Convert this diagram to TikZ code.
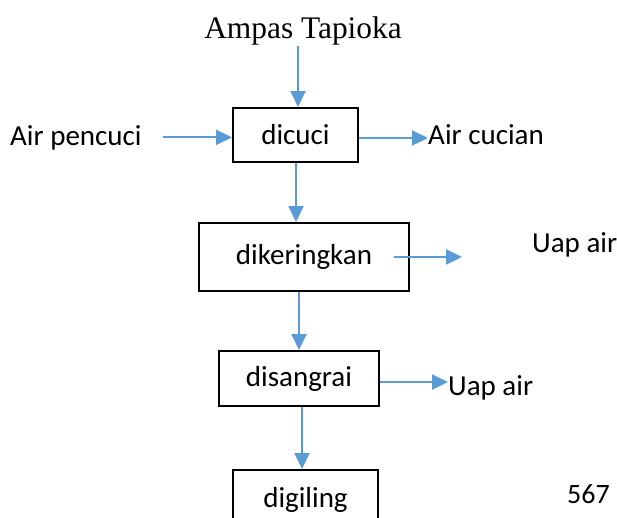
\documentclass[tikz,border=0pt]{standalone}
\usepackage{fontspec}
\setmainfont{Carlito}
\newfontfamily\serifface{Liberation Serif}
\usetikzlibrary{arrows.meta}
\definecolor{flowblue}{RGB}{91,155,213}

\begin{document}
\begin{tikzpicture}[x=1pt, y=-1pt, >={Triangle[length=16pt, width=15pt]}]
    \tikzstyle{box} = [draw, line width=2pt, inner sep=0pt, text centered, font=\fontsize{29pt}{34pt}\selectfont]
    \tikzstyle{lbl} = [inner sep=0pt, font=\fontsize{29pt}{34pt}\selectfont]
    \tikzstyle{flow} = [->, color=flowblue, line width=2pt]
    \clip (0,0) rectangle (617,517);
    \node [inner sep=1pt, anchor=base, font=\serifface\fontsize{31.4pt}{36pt}\selectfont] at (303,38) (ampas) {Ampas Tapioka};
    \node [box, minimum width=125pt, minimum height=54pt] at (295.5,135) (dicuci) {dicuci};
    \node [box, minimum width=210pt, minimum height=68pt] at (304,257) (kering) {dikeringkan};
    \node [box, minimum width=160pt, minimum height=55pt] at (299,378.5) (sangrai) {disangrai};
    \node [box, minimum width=145pt, minimum height=60pt] at (305.5,500) (giling) {digiling};
    \node [lbl, anchor=base west] at (10,145) (pencuci) {Air pencuci};
    \node [lbl, anchor=base west] at (428,144) (cucian) {Air cucian};
    \node [lbl, anchor=base west] at (532,252) (uapkering) {Uap air};
    \node [lbl, anchor=base west] at (448,395) (uapsangrai) {Uap air};
    \node [lbl, anchor=base west, font=\fontsize{28pt}{33pt}\selectfont] at (567,503) (hal) {567};
    \draw [flow] ([xshift=2.5pt]dicuci.north |- ampas.south) -- ([xshift=2.5pt]dicuci.north);
    \draw [flow] ([xshift=21pt]pencuci.east) -- (pencuci.east -| dicuci.west);
    \draw [flow] ([yshift=-3pt]dicuci.east) -- ([yshift=-3pt]dicuci.east -| cucian.west);
    \draw [flow] ([xshift=0.5pt]dicuci.south) -- ([xshift=0.5pt]dicuci.south |- kering.north);
    \draw [flow] ([xshift=-16pt]kering.east) -- ([xshift=-70pt]uapkering.west |- kering.east);
    \draw [flow] (sangrai.north |- kering.south) -- (sangrai.north);
    \draw [flow] ([yshift=-3.5pt]sangrai.east) -- ([yshift=-3.5pt]sangrai.east -| uapsangrai.west);
    \draw [flow] ([xshift=3pt]sangrai.south) -- ([xshift=3pt]sangrai.south |- giling.north);
\end{tikzpicture}
\end{document}
